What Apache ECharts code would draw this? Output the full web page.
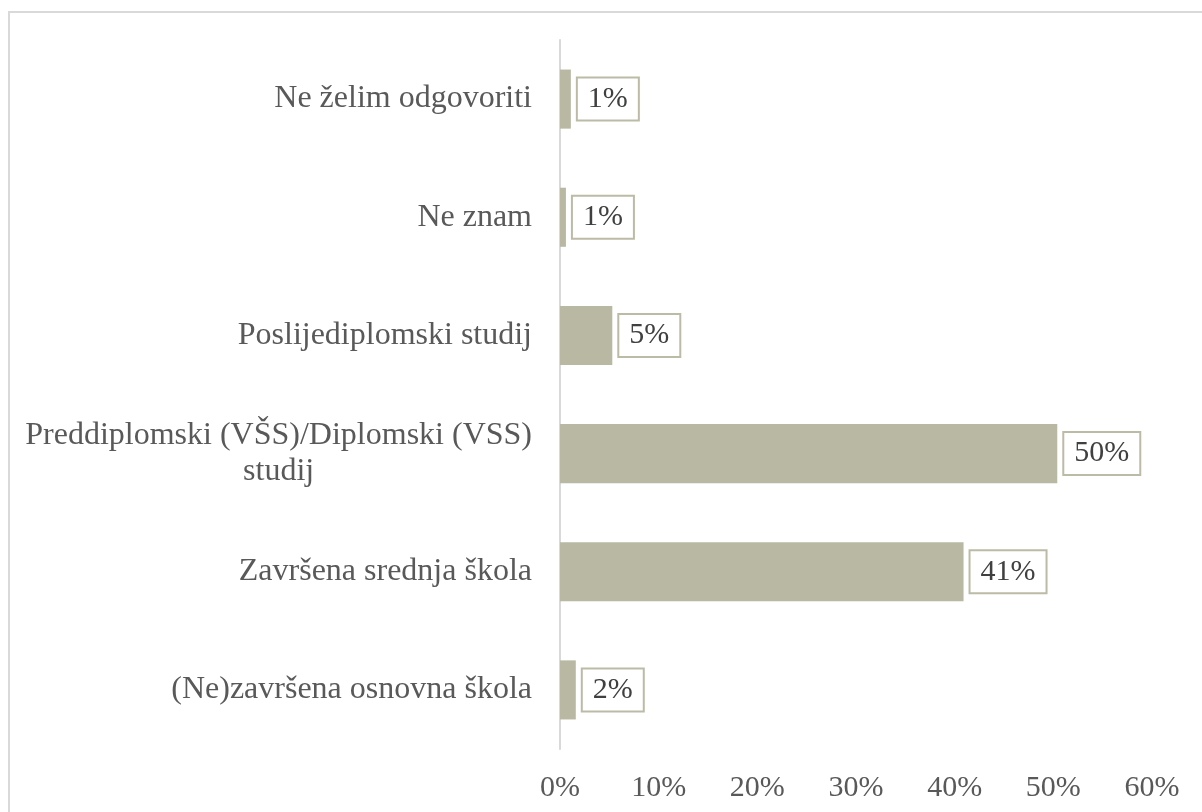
<!DOCTYPE html>
<html>
<head>
<meta charset="utf-8">
<script src="https://cdn.jsdelivr.net/npm/echarts@6/dist/echarts.min.js"></script>
<style>
html,body{margin:0;padding:0;background:#fff;}
#chart{width:1202px;height:812px;}
</style>
</head>
<body>
<div id="chart"></div>
<script>
const categories = [
  '(Ne)završena osnovna škola',
  'Završena srednja škola',
  'Preddiplomski (VŠS)/Diplomski (VSS) studij',
  'Poslijediplomski studij',
  'Ne znam',
  'Ne želim odgovoriti'
];
const values = [1.6, 40.9, 50.4, 5.3, 0.6, 1.1];
const tickMax = 60;
const tickStep = 10;

const FONT = '"Liberation Serif", "Times New Roman", serif';

function wrapLabel(s) {
  if (s.length <= 30) return '{c|' + s + '}';
  const i = s.lastIndexOf(' ');
  return '{c|' + s.slice(0, i) + '}\n{c|' + s.slice(i + 1) + '}';
}

const chart = echarts.init(document.getElementById('chart'));
chart.setOption({
  backgroundColor: '#fff',
  animation: false,
  graphic: [{
    type: 'rect',
    shape: { x: 9, y: 12, width: 1400, height: 1000 },
    style: { fill: 'none', stroke: '#d9d9d9', lineWidth: 2 },
    silent: true
  }],
  grid: { left: 560, right: 50, top: 40, bottom: 63, containLabel: false },
  xAxis: {
    type: 'value',
    min: 0,
    max: tickMax,
    interval: tickStep,
    axisLine: { show: false },
    axisTick: { show: false },
    splitLine: { show: false },
    axisLabel: {
      formatter: v => v + '%',
      color: '#595959',
      fontFamily: FONT,
      fontSize: 30,
      margin: 24
    }
  },
  yAxis: {
    type: 'category',
    data: categories,
    axisLine: { show: true, lineStyle: { color: '#d9d9d9', width: 2 } },
    axisTick: { show: false },
    splitLine: { show: false },
    axisLabel: {
      formatter: wrapLabel,
      color: '#595959',
      fontFamily: FONT,
      fontSize: 32,
      margin: 28,
      lineHeight: 36,
      rich: {
        c: { align: 'center', color: '#595959', fontFamily: FONT, fontSize: 32, lineHeight: 36 }
      }
    }
  },
  series: [{
    type: 'bar',
    data: values,
    barCategoryGap: '50%',
    itemStyle: { color: '#b9b8a3' },
    label: {
      show: true,
      position: 'right',
      distance: 7,
      formatter: p => Math.round(p.value) + '%',
      color: '#404040',
      fontFamily: FONT,
      fontSize: 30,
      backgroundColor: '#fff',
      borderColor: '#bcbba6',
      borderWidth: 2,
      padding: [6, 10, 5, 10]
    }
  }]
});
</script>
</body>
</html>
